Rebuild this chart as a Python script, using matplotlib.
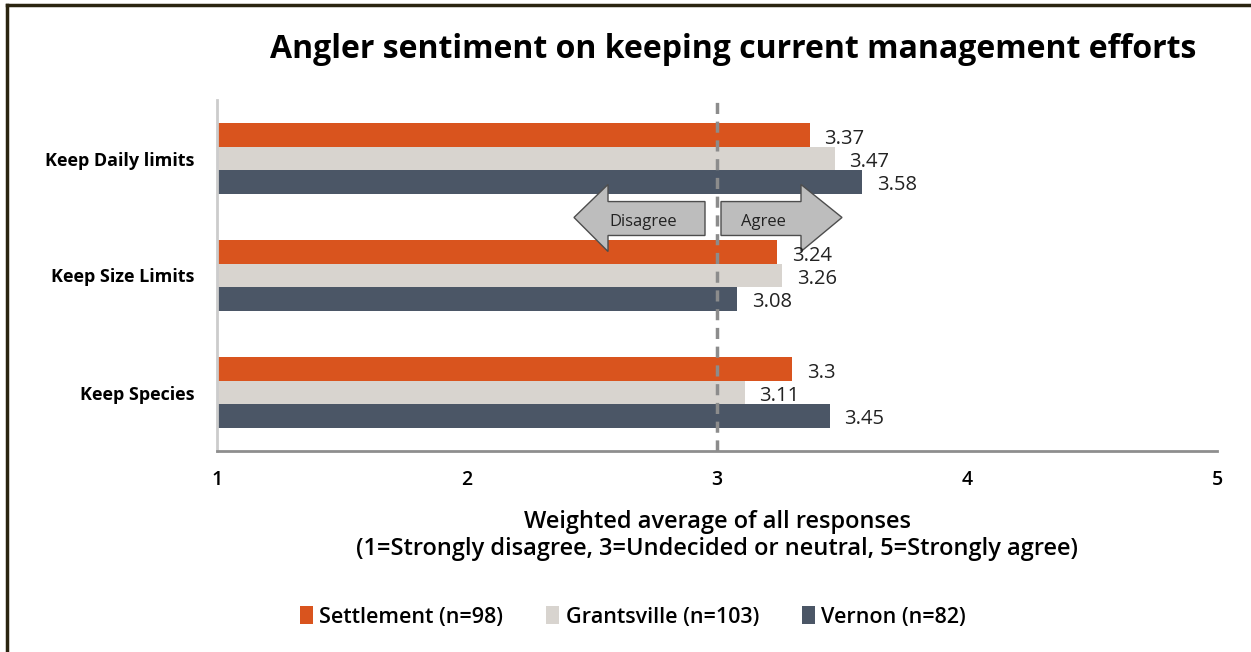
import matplotlib
matplotlib.use("Agg")
import matplotlib.pyplot as plt
from matplotlib.patches import Polygon
import numpy as np

categories = ["Keep Daily limits", "Keep Size Limits", "Keep Species"]
series_names = ["Settlement (n=98)", "Grantsville (n=103)", "Vernon (n=82)"]
settlement = [3.37, 3.24, 3.30]
grantsville = [3.47, 3.26, 3.11]
vernon = [3.58, 3.08, 3.45]
value_labels = [["3.37", "3.24", "3.3"], ["3.47", "3.26", "3.11"], ["3.58", "3.08", "3.45"]]
xticks = [1, 2, 3, 4, 5]
colors = ["#D9541E", "#D8D4CF", "#4B5666"]

plt.rcParams['font.family'] = ['Open Sans', 'DejaVu Sans']

fig = plt.figure(figsize=(12.51, 6.52), dpi=100)
ax = fig.add_axes([217/1251, 1-451/652, 1000/1251, 351/652])

# figure border (left and top)
fig.add_artist(plt.Line2D([7/1251, 7/1251], [0, 1-5/652], transform=fig.transFigure, color="#2B2510", lw=2.5))
fig.add_artist(plt.Line2D([7/1251, 1.0], [1-5/652, 1-5/652], transform=fig.transFigure, color="#2B2510", lw=2.5))

y = np.arange(len(categories))
h = 0.2
data = [settlement, grantsville, vernon]
offsets = [-h, 0, h]
for i, (vals, c) in enumerate(zip(data, colors)):
    ax.barh(y + offsets[i], np.array(vals) - 1, left=1, height=h, color=c,
            label=series_names[i], zorder=2)
    for j, v in enumerate(vals):
        ax.text(v + 0.06, y[j] + offsets[i] + 0.03, value_labels[i][j], va="center", ha="left",
                fontsize=14.5, color="#222222", zorder=5)

ax.axvline(3, color="#8C8C8C", lw=2.5, ls=(0, (3.2, 2.2)), zorder=3)

# arrows
arrow_face = "#BDBDBD"
arrow_edge = "#4D4D4D"
dis = Polygon([(2.428, 0.504), (2.564, 0.222), (2.564, 0.368), (2.952, 0.368),
               (2.952, 0.658), (2.564, 0.658), (2.564, 0.795)], closed=True,
              facecolor=arrow_face, edgecolor=arrow_edge, lw=1, zorder=4)
agr = Polygon([(3.016, 0.368), (3.336, 0.368), (3.336, 0.222), (3.5, 0.504),
               (3.336, 0.795), (3.336, 0.658), (3.016, 0.658)], closed=True,
              facecolor=arrow_face, edgecolor=arrow_edge, lw=1, zorder=4)
ax.add_patch(dis)
ax.add_patch(agr)
ax.text(2.704, 0.54, "Disagree", ha="center", va="center", fontsize=12, color="#222222", zorder=5)
ax.text(3.184, 0.54, "Agree", ha="center", va="center", fontsize=12, color="#222222", zorder=5)

ax.set_xlim(1, 5)
ax.set_ylim(2.5, -0.5)
ax.set_xticks(xticks)
ax.set_xticklabels([str(t) for t in xticks], fontsize=14, fontweight="semibold")
ax.set_yticks(y)
ax.set_yticklabels(categories, fontsize=13, fontweight="bold")
ax.tick_params(axis="both", length=0)
ax.tick_params(axis="x", pad=14)
ax.tick_params(axis="y", pad=16)
for s in ["top", "right"]:
    ax.spines[s].set_visible(False)
ax.spines["left"].set_color("#CCCCCC")
ax.spines["left"].set_linewidth(2)
ax.spines["bottom"].set_color("#8E8E8E")
ax.spines["bottom"].set_linewidth(2)

ax.set_xlabel("Weighted average of all responses\n(1=Strongly disagree, 3=Undecided or neutral, 5=Strongly agree)",
              fontsize=17, fontweight="semibold", labelpad=14, linespacing=1.2)

fig.text(733.5/1251, 1-50/652, "Angler sentiment on keeping current management efforts",
         ha="center", va="center", fontsize=23, fontweight="bold", color="#000000")

leg = fig.legend(loc="center", bbox_to_anchor=(633/1251, 1-617/652), ncol=3, frameon=False,
                 handlelength=0.6, handleheight=0.9, handletextpad=0.3, columnspacing=2.0,
                 prop={"weight": "semibold", "size": 15.5})

fig.savefig("out.png", dpi=100)
